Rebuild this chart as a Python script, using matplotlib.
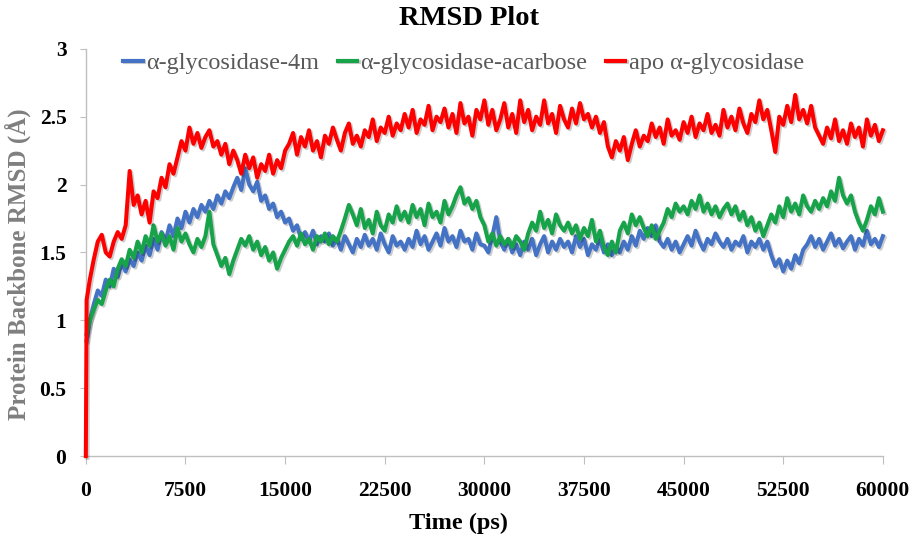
import numpy as np
import matplotlib.pyplot as plt
import matplotlib.patheffects as pe

# time axis (ps): start, one early frame, then every 300 ps
time = np.concatenate(([0, 60], np.arange(300, 60001, 300)))

# RMSD values (Angstrom)
rmsd_4m = [0.0, 0.85,
    1.00, 1.12, 1.22, 1.18, 1.30, 1.25, 1.38, 1.32, 1.42, 1.36,
    1.45, 1.40, 1.50, 1.44, 1.55, 1.48, 1.60, 1.52, 1.65, 1.58,
    1.70, 1.62, 1.75, 1.68, 1.80, 1.72, 1.82, 1.76, 1.85, 1.80,
    1.88, 1.82, 1.92, 1.86, 1.95, 1.90, 1.98, 2.05, 1.96, 2.12,
    2.00, 1.95, 2.02, 1.88, 1.92, 1.82, 1.86, 1.76, 1.80, 1.72,
    1.75, 1.66, 1.70, 1.60, 1.65, 1.58, 1.66, 1.56, 1.62, 1.58,
    1.64, 1.55, 1.60, 1.52, 1.62, 1.56, 1.50, 1.60, 1.54, 1.63,
    1.55, 1.60, 1.52, 1.64, 1.56, 1.50, 1.62, 1.55, 1.58, 1.52,
    1.60, 1.54, 1.66, 1.56, 1.62, 1.52, 1.58, 1.64, 1.55, 1.68,
    1.58, 1.62, 1.54, 1.66, 1.58, 1.60, 1.52, 1.64, 1.56, 1.55,
    1.50, 1.62, 1.76, 1.58, 1.52, 1.60, 1.50, 1.56, 1.48, 1.58,
    1.52, 1.60, 1.48, 1.56, 1.62, 1.50, 1.58, 1.52, 1.60, 1.54,
    1.58, 1.50, 1.62, 1.54, 1.60, 1.48, 1.56, 1.52, 1.60, 1.50,
    1.56, 1.48, 1.54, 1.50, 1.58, 1.52, 1.62, 1.55, 1.66, 1.60,
    1.68, 1.62, 1.70, 1.58, 1.54, 1.60, 1.52, 1.58, 1.50, 1.56,
    1.62, 1.55, 1.66, 1.58, 1.52, 1.60, 1.56, 1.64, 1.58, 1.54,
    1.60, 1.52, 1.58, 1.55, 1.62, 1.50, 1.58, 1.54, 1.60, 1.52,
    1.58, 1.48, 1.40, 1.45, 1.36, 1.44, 1.38, 1.48, 1.42, 1.52,
    1.56, 1.62, 1.54, 1.60, 1.52, 1.58, 1.64, 1.55, 1.60, 1.53,
    1.58, 1.62, 1.52, 1.60, 1.55, 1.66, 1.56, 1.60, 1.54, 1.62]

rmsd_acarbose = [0.0, 0.90,
    1.00, 1.08, 1.15, 1.12, 1.22, 1.30, 1.25, 1.38, 1.45, 1.40,
    1.52, 1.46, 1.58, 1.50, 1.62, 1.55, 1.70, 1.58, 1.64, 1.55,
    1.62, 1.52, 1.68, 1.58, 1.64, 1.56, 1.50, 1.60, 1.54, 1.62,
    1.80, 1.56, 1.48, 1.40, 1.46, 1.34, 1.44, 1.52, 1.60, 1.55,
    1.62, 1.52, 1.58, 1.48, 1.54, 1.44, 1.50, 1.38, 1.46, 1.52,
    1.58, 1.62, 1.55, 1.64, 1.56, 1.60, 1.52, 1.62, 1.58, 1.64,
    1.56, 1.62, 1.58, 1.66, 1.75, 1.85, 1.78, 1.70, 1.82, 1.68,
    1.74, 1.64, 1.80, 1.70, 1.66, 1.78, 1.72, 1.84, 1.74, 1.80,
    1.72, 1.85, 1.76, 1.82, 1.70, 1.86, 1.76, 1.80, 1.72, 1.88,
    1.78, 1.84, 1.92, 1.98, 1.86, 1.90, 1.82, 1.88, 1.76, 1.70,
    1.58, 1.64, 1.55, 1.62, 1.56, 1.60, 1.54, 1.62, 1.58, 1.52,
    1.64, 1.72, 1.66, 1.80, 1.68, 1.74, 1.64, 1.78, 1.70, 1.66,
    1.72, 1.64, 1.70, 1.60, 1.68, 1.62, 1.74, 1.58, 1.66, 1.54,
    1.48, 1.58, 1.50, 1.66, 1.72, 1.64, 1.78, 1.70, 1.76, 1.68,
    1.62, 1.70, 1.60, 1.66, 1.72, 1.82, 1.76, 1.86, 1.80, 1.84,
    1.78, 1.88, 1.82, 1.92, 1.80, 1.86, 1.78, 1.84, 1.76, 1.82,
    1.86, 1.78, 1.84, 1.74, 1.80, 1.70, 1.76, 1.66, 1.72, 1.62,
    1.70, 1.78, 1.72, 1.84, 1.76, 1.90, 1.80, 1.86, 1.78, 1.92,
    1.84, 1.80, 1.88, 1.82, 1.90, 1.84, 1.95, 1.88, 2.05, 1.92,
    1.86, 1.92, 1.80, 1.72, 1.66, 1.74, 1.84, 1.78, 1.90, 1.80]

rmsd_apo = [0.0, 1.15,
    1.30, 1.45, 1.58, 1.63, 1.50, 1.47, 1.58, 1.65, 1.60, 1.70,
    2.10, 1.85, 1.92, 1.78, 1.88, 1.72, 1.95, 1.90, 2.05, 1.98,
    2.15, 2.08, 2.20, 2.32, 2.25, 2.42, 2.30, 2.38, 2.27, 2.35,
    2.40, 2.28, 2.32, 2.22, 2.30, 2.15, 2.25, 2.18, 2.08, 2.22,
    2.12, 2.20, 2.05, 2.15, 2.10, 2.22, 2.08, 2.18, 2.12, 2.25,
    2.30, 2.38, 2.22, 2.35, 2.28, 2.40, 2.25, 2.32, 2.20, 2.36,
    2.30, 2.42, 2.33, 2.25, 2.38, 2.45, 2.30, 2.36, 2.28, 2.40,
    2.35, 2.48, 2.32, 2.42, 2.38, 2.50, 2.36, 2.45, 2.40, 2.52,
    2.42, 2.55, 2.38, 2.48, 2.44, 2.58, 2.40, 2.50, 2.46, 2.56,
    2.42, 2.52, 2.38, 2.60, 2.45, 2.50, 2.36, 2.55, 2.48, 2.62,
    2.44, 2.55, 2.40, 2.48, 2.60, 2.42, 2.52, 2.38, 2.62, 2.46,
    2.55, 2.40, 2.50, 2.44, 2.62, 2.45, 2.52, 2.38, 2.58, 2.48,
    2.42, 2.56, 2.45, 2.60, 2.48, 2.52, 2.42, 2.50, 2.38, 2.46,
    2.28, 2.20, 2.32, 2.25, 2.35, 2.18, 2.30, 2.40, 2.28, 2.36,
    2.32, 2.45, 2.35, 2.42, 2.30, 2.48, 2.36, 2.40, 2.33, 2.46,
    2.38, 2.50, 2.35, 2.45, 2.40, 2.52, 2.38, 2.44, 2.36, 2.55,
    2.42, 2.50, 2.40, 2.56, 2.45, 2.38, 2.52, 2.46, 2.62, 2.48,
    2.55, 2.40, 2.24, 2.50, 2.44, 2.58, 2.46, 2.66, 2.48, 2.55,
    2.45, 2.58, 2.42, 2.36, 2.30, 2.42, 2.34, 2.48, 2.32, 2.40,
    2.30, 2.45, 2.35, 2.42, 2.28, 2.48, 2.36, 2.44, 2.32, 2.40]

labels = ["\u03b1-glycosidase-4m", "\u03b1-glycosidase-acarbose", "apo \u03b1-glycosidase"]
colors = ["#4472C4", "#17A34A", "#FF0000"]
xticks = [0, 7500, 15000, 22500, 30000, 37500, 45000, 52500, 60000]
yticks = [0, 0.5, 1, 1.5, 2, 2.5, 3]

plt.rcParams['font.family'] = ['Liberation Serif', 'DejaVu Serif']

fig = plt.figure(figsize=(9.13, 5.36), dpi=100)
ax = fig.add_axes([0.094, 0.149, 0.873, 0.76])

shadow = [pe.SimpleLineShadow(offset=(1.2, -1.2), alpha=0.2), pe.Normal()]
# complexes start from their first frame, apo trace starts at 0
ax.plot(time[1:], rmsd_4m[1:], color=colors[0], lw=2.9, label=labels[0],
        path_effects=shadow, zorder=3, clip_on=False)
ax.plot(time[1:], rmsd_acarbose[1:], color=colors[1], lw=2.9, label=labels[1],
        path_effects=shadow, zorder=3, clip_on=False)
ax.plot(time, rmsd_apo, color=colors[2], lw=2.9, label=labels[2],
        path_effects=shadow, zorder=3, clip_on=False)

ax.set_xlim(0, 60000)
ax.set_ylim(0, 3)
ax.set_xticks(xticks)
ax.set_xticklabels([str(t) for t in xticks], fontsize=15.5, fontweight='bold')
ax.set_yticks(yticks)
ax.set_yticklabels([f"{v:g}" for v in yticks], fontsize=15.5, fontweight='bold')
ax.tick_params(axis='x', length=6, width=0.8, color='#BFBFBF', pad=12)
ax.tick_params(axis='y', length=4, width=0.8, color='#BFBFBF', pad=10)

for s in ['top', 'right']:
    ax.spines[s].set_visible(False)
for s in ['left', 'bottom']:
    ax.spines[s].set_color('#BFBFBF')
    ax.spines[s].set_linewidth(1.0)

fig.text(0.514, 0.966, "RMSD Plot", fontsize=20.5, fontweight='bold', ha='center', va='center')
ax.set_xlabel("Time (ps)", fontsize=17.5, fontweight='bold')
ax.xaxis.set_label_coords(0.468, -0.14)
ax.set_ylabel("Protein Backbone RMSD (\u00c5)", fontsize=18, fontweight='bold', color='#7F7F7F')
ax.yaxis.set_label_coords(-0.069, 0.47)

leg = ax.legend(loc='upper center', bbox_to_anchor=(0.474, 1.045), ncol=3, frameon=False,
                fontsize=17.5, handlelength=0.8, handletextpad=0.15, columnspacing=0.75)
for t in leg.get_texts():
    t.set_color('#595959')
for h in leg.get_lines():
    h.set_linewidth(3)

fig.savefig("out.png", dpi=100)
